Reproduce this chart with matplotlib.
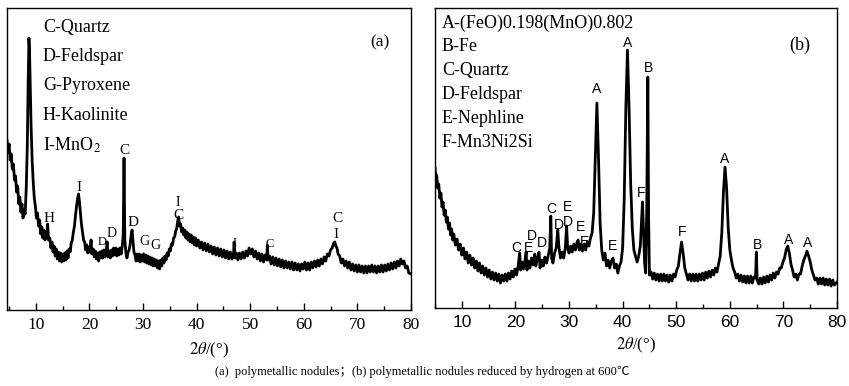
import matplotlib.pyplot as plt
from matplotlib.ticker import MultipleLocator

# (a) polymetallic nodules: 2theta / intensity (arb. units)
two_theta_a = [4.6, 4.8, 5.0, 5.2, 5.4, 5.6, 5.8, 6.0, 6.2, 6.4, 6.6, 6.8, 7.0, 7.2, 7.4, 7.6, 7.8, 8.0,
               8.2, 8.4, 8.55, 8.7, 8.8, 8.95, 9.1, 9.3, 9.5, 9.7, 9.9, 10.1, 10.3, 10.5, 10.7, 10.9,
               11.1, 11.3, 11.5, 11.7, 11.9, 12.1, 12.2, 12.35, 12.6, 12.8, 13.0, 13.2, 13.4, 13.6,
               13.8, 14.0, 14.2, 14.4, 14.6, 14.8, 15.0, 15.2, 15.4, 15.6, 15.8, 16.0, 16.2, 16.4,
               16.6, 16.8, 17.0, 17.2, 17.4, 17.6, 17.8, 17.95, 18.1, 18.3, 18.5, 18.7, 18.9, 19.1,
               19.3, 19.5, 19.7, 19.9, 20.1, 20.3, 20.45, 20.7, 20.9, 21.1, 21.3, 21.5, 21.7, 21.9,
               22.1, 22.3, 22.5, 22.7, 22.9, 23.1, 23.3, 23.45, 23.7, 23.9, 24.1, 24.3, 24.5, 24.7,
               24.9, 25.1, 25.3, 25.5, 25.7, 25.9, 26.1, 26.3, 26.45, 26.6, 26.8, 27.0, 27.2, 27.4,
               27.6, 27.8, 27.95, 28.1, 28.3, 28.5, 28.7, 28.9, 29.1, 29.3, 29.5, 29.7, 29.9, 30.1,
               30.3, 30.5, 30.7, 30.9, 31.1, 31.3, 31.5, 31.7, 31.9, 32.1, 32.3, 32.5, 32.7, 32.9,
               33.1, 33.3, 33.5, 33.7, 33.9, 34.1, 34.3, 34.5, 34.7, 34.9, 35.1, 35.3, 35.5, 35.7,
               35.9, 36.1, 36.3, 36.5, 36.65, 36.8, 37.0, 37.2, 37.4, 37.6, 37.8, 38.0, 38.2, 38.4,
               38.6, 38.8, 39.0, 39.2, 39.4, 39.6, 39.8, 40.0, 40.3, 40.6, 40.9, 41.2, 41.5, 41.8,
               42.1, 42.4, 42.7, 43.0, 43.3, 43.6, 43.9, 44.2, 44.5, 44.8, 45.1, 45.4, 45.7, 46.0,
               46.3, 46.6, 46.9, 47.0, 47.15, 47.4, 47.7, 48.0, 48.3, 48.6, 48.9, 49.2, 49.5, 49.8,
               50.1, 50.4, 50.7, 51.0, 51.3, 51.6, 51.9, 52.2, 52.5, 52.8, 53.1, 53.2, 53.35, 53.6,
               53.9, 54.2, 54.5, 54.8, 55.1, 55.4, 55.7, 56.0, 56.3, 56.6, 56.9, 57.2, 57.5, 57.8,
               58.1, 58.4, 58.7, 59.0, 59.3, 59.6, 59.9, 60.2, 60.5, 60.8, 61.1, 61.4, 61.7, 62.0,
               62.3, 62.6, 62.9, 63.2, 63.5, 63.8, 64.1, 64.4, 64.7, 65.0, 65.3, 65.6, 65.8, 66.0,
               66.2, 66.4, 66.7, 67.0, 67.3, 67.6, 67.9, 68.2, 68.5, 68.8, 69.1, 69.4, 69.7, 70.0,
               70.3, 70.6, 70.9, 71.2, 71.5, 71.8, 72.1, 72.4, 72.7, 73.0, 73.3, 73.6, 73.9, 74.2,
               74.5, 74.8, 75.1, 75.4, 75.7, 76.0, 76.3, 76.6, 76.9, 77.2, 77.5, 77.8, 78.1, 78.4,
               78.7, 79.0, 79.3, 79.6, 80.0]
intensity_a = [170, 158, 166, 150, 156, 141, 146, 130, 134, 118, 124, 106, 113, 98, 106, 92, 100, 96,
               122, 165, 225, 272, 262, 225, 185, 150, 128, 112, 104, 92, 97, 84, 90, 76,
               83, 72, 80, 70, 78, 73, 86, 70, 72, 62, 68, 58, 64, 54,
               61, 51, 58, 49, 57, 48, 56, 49, 57, 50, 59, 52, 61, 58,
               67, 70, 78, 84, 95, 104, 112, 116, 110, 98, 86, 78, 70, 68,
               60, 65, 57, 63, 58, 70, 56, 61, 53, 59, 51, 57, 49, 58,
               52, 59, 52, 60, 53, 58, 68, 53, 59, 52, 60, 54, 62, 55,
               62, 54, 61, 55, 62, 56, 63, 75, 152, 70, 57, 52, 58, 60,
               66, 76, 80, 70, 58, 55, 49, 56, 49, 56, 48, 55, 49, 56,
               48, 55, 47, 54, 46, 53, 45, 52, 44, 51, 44, 50, 42, 49,
               41, 50, 44, 52, 47, 54, 50, 57, 54, 61, 59, 66, 65, 72,
               73, 79, 82, 90, 93, 84, 86, 78, 82, 75, 80, 72, 78, 70,
               76, 68, 75, 67, 73, 65, 72, 64, 70, 62, 68, 60, 67, 59,
               66, 58, 64, 56, 63, 55, 62, 54, 61, 53, 60, 52, 59, 51,
               58, 51, 57, 68, 52, 57, 50, 57, 51, 58, 52, 59, 54, 62,
               56, 61, 53, 59, 51, 57, 49, 56, 48, 55, 50, 65, 50, 54,
               46, 53, 45, 52, 44, 51, 43, 50, 42, 49, 42, 48, 41, 48,
               40, 47, 40, 46, 39, 46, 41, 48, 40, 47, 40, 48, 42, 49,
               43, 50, 44, 51, 46, 53, 49, 56, 54, 60, 62, 67, 68, 64,
               62, 56, 54, 47, 51, 44, 49, 42, 48, 40, 46, 39, 45, 38,
               45, 38, 44, 37, 44, 37, 44, 38, 45, 38, 44, 37, 44, 38,
               45, 38, 45, 39, 46, 40, 47, 41, 48, 42, 49, 44, 51, 46,
               49, 42, 44, 37, 36]

# (b) reduced by hydrogen at 600 C
two_theta_b = [5.0, 5.15, 5.3, 5.5, 5.7, 5.9, 6.1, 6.3, 6.5, 6.7, 6.9, 7.1, 7.3, 7.5, 7.7, 7.9, 8.1,
               8.3, 8.5, 8.8, 9.1, 9.4, 9.7, 10.0, 10.3, 10.6, 10.9, 11.2, 11.5, 11.8, 12.1, 12.4,
               12.7, 13.0, 13.3, 13.6, 13.9, 14.2, 14.5, 14.8, 15.1, 15.4, 15.7, 16.0, 16.3, 16.6,
               16.9, 17.2, 17.5, 17.8, 18.1, 18.4, 18.7, 19.0, 19.3, 19.6, 19.9, 20.2, 20.5, 20.8,
               20.95, 21.2, 21.5, 21.8, 22.0, 22.15, 22.4, 22.7, 23.0, 23.3, 23.6, 23.8, 24.1, 24.4,
               24.6, 24.9, 25.2, 25.5, 25.8, 26.1, 26.4, 26.6, 26.75, 27.0, 27.3, 27.6, 27.9, 28.1,
               28.4, 28.7, 29.0, 29.3, 29.55, 29.75, 30.0, 30.3, 30.6, 30.9, 31.2, 31.5, 31.7, 31.9,
               32.2, 32.5, 32.8, 33.1, 33.4, 33.7, 34.0, 34.3, 34.6, 34.9, 35.2, 35.5, 35.8, 36.1,
               36.4, 36.7, 37.0, 37.3, 37.6, 37.9, 38.2, 38.5, 38.8, 39.1, 39.4, 39.7, 40.0, 40.3,
               40.6, 40.9, 41.2, 41.5, 41.8, 42.1, 42.4, 42.7, 43.0, 43.3, 43.5, 43.7, 43.9, 44.1,
               44.3, 44.5, 44.7, 44.85, 45.0, 45.3, 45.6, 45.9, 46.2, 46.5, 46.8, 47.1, 47.4, 47.7,
               48.0, 48.3, 48.6, 48.9, 49.2, 49.5, 49.8, 50.1, 50.4, 50.7, 51.0, 51.3, 51.6, 51.9,
               52.2, 52.5, 52.8, 53.1, 53.4, 53.7, 54.0, 54.3, 54.6, 54.9, 55.2, 55.5, 55.8, 56.1,
               56.4, 56.7, 57.0, 57.3, 57.6, 57.9, 58.2, 58.5, 58.8, 59.1, 59.4, 59.7, 60.0, 60.3,
               60.6, 60.9, 61.2, 61.5, 61.8, 62.1, 62.4, 62.7, 63.0, 63.3, 63.6, 63.9, 64.2, 64.5,
               64.8, 64.95, 65.1, 65.4, 65.7, 66.0, 66.3, 66.6, 66.9, 67.2, 67.5, 67.8, 68.1, 68.4,
               68.7, 69.0, 69.3, 69.6, 69.9, 70.2, 70.5, 70.8, 71.1, 71.4, 71.7, 72.0, 72.3, 72.6,
               72.9, 73.2, 73.5, 73.8, 74.1, 74.4, 74.7, 75.0, 75.3, 75.6, 75.9, 76.2, 76.5, 76.8,
               77.1, 77.4, 77.7, 78.0, 78.3, 78.6, 78.9, 79.2, 79.5, 80.0]
intensity_b = [140, 128, 133, 120, 124, 110, 115, 101, 106, 93, 98, 86, 91, 79, 85, 73, 79,
               68, 74, 63, 69, 58, 64, 53, 60, 49, 56, 45, 53, 43, 50, 40,
               47, 37, 45, 35, 42, 33, 40, 31, 38, 29, 36, 28, 35, 27,
               34, 25, 33, 27, 34, 27, 35, 29, 37, 31, 39, 33, 42, 55,
               38, 46, 39, 48, 56, 38, 47, 40, 50, 43, 54, 42, 50, 56,
               40, 48, 42, 51, 45, 52, 60, 92, 50, 45, 55, 60, 78, 62,
               50, 56, 50, 60, 82, 60, 55, 62, 56, 64, 58, 66, 68, 58,
               64, 57, 64, 58, 66, 62, 70, 75, 95, 150, 205, 150, 85, 58,
               48, 55, 42, 48, 40, 47, 50, 40, 44, 35, 42, 46, 60, 110,
               200, 258, 200, 125, 80, 58, 52, 46, 52, 62, 85, 106, 78, 45,
               35, 100, 231, 90, 33, 36, 29, 35, 28, 34, 27, 34, 27, 34,
               27, 33, 26, 33, 27, 34, 31, 38, 42, 55, 66, 54, 40, 34,
               28, 34, 27, 34, 27, 34, 27, 34, 28, 35, 28, 36, 30, 37,
               31, 38, 33, 40, 36, 44, 52, 75, 115, 141, 120, 80, 58, 48,
               40, 36, 30, 34, 27, 33, 26, 32, 25, 32, 25, 32, 25, 31,
               30, 56, 28, 24, 30, 24, 31, 25, 32, 26, 33, 28, 35, 30,
               36, 34, 40, 40, 46, 50, 58, 62, 55, 44, 38, 31, 34, 28,
               34, 34, 42, 48, 52, 57, 52, 46, 38, 33, 28, 30, 24, 30,
               24, 30, 23, 29, 23, 29, 22, 28, 23, 26]

phases_a = ['C-Quartz', 'D-Feldspar', 'G-Pyroxene', 'H-Kaolinite', 'I-MnO$_2$']
phases_b = ['A-(FeO)0.198(MnO)0.802', 'B-Fe', 'C-Quartz', 'D-Feldspar', 'E-Nephline', 'F-Mn3Ni2Si']

# peak letters: (label, 2theta, y, size)
marks_a = [('H', 12.5, 92, 11), ('I', 18.1, 123, 11), ('D', 22.3, 68, 9), ('D', 24.1, 76, 10),
           ('C', 26.5, 160, 11), ('D', 28.2, 88, 11), ('G', 30.2, 68, 10), ('G', 32.4, 64, 10),
           ('I', 36.5, 108, 10), ('C', 36.7, 95, 11), ('I', 47.0, 67, 9), ('C', 53.6, 66, 9),
           ('C', 66.3, 92, 11), ('I', 66.0, 75, 11)]
marks_b = [('C', 20.2, 60), ('E', 22.5, 60), ('D', 23.1, 72), ('D', 25.0, 65), ('C', 26.7, 99),
           ('D', 28.05, 83), ('E', 29.8, 101), ('D', 29.8, 86), ('E', 32.2, 81), ('E', 32.9, 66),
           ('A', 35.2, 219), ('E', 38.1, 62), ('A', 40.85, 265), ('F', 43.5, 115), ('B', 44.8, 240),
           ('F', 51.1, 76), ('A', 59.1, 149), ('B', 65.1, 63), ('A', 70.9, 68), ('A', 74.5, 65)]

serif = ['Liberation Serif', 'DejaVu Serif']
sans = ['Liberation Sans', 'DejaVu Sans']
plt.rcParams['mathtext.fontset'] = 'stix'

fig = plt.figure(figsize=(8.49, 3.86), dpi=100)
ax1 = fig.add_axes([0.0082, 0.197, 0.4758, 0.782])
ax2 = fig.add_axes([0.5124, 0.202, 0.4735, 0.777])

ax1.plot(two_theta_a, intensity_a, color='black', lw=2.0)
ax1.set_xlim(4.6, 80)
ax1.set_ylim(0, 302)
for lab, x, y, fs in marks_a:
    ax1.text(x, y, lab, ha='center', va='center', fontsize=fs, family=serif)
for i, p in enumerate(phases_a):
    ax1.text(0.089, 0.937 - i * 0.0975, p, transform=ax1.transAxes, va='center',
             fontsize=13, family=serif)
ax1.text(0.923, 0.887, '(a)', transform=ax1.transAxes, ha='center', va='center',
         fontsize=12.5, family=serif)
ax1.set_xlabel(r'$2\theta$/(°)', fontsize=12, family=serif, labelpad=6)

ax2.plot(two_theta_b, intensity_b, color='black', lw=2.0)
ax2.set_xlim(5, 80)
ax2.set_ylim(0, 300)
for lab, x, y in marks_b:
    ax2.text(x, y, lab, ha='center', va='center', fontsize=10, family=sans)
for i, p in enumerate(phases_b):
    ax2.text(0.017, 0.95 - i * 0.0795, p, transform=ax2.transAxes, va='center',
             fontsize=13, family=serif)
ax2.text(0.908, 0.877, '(b)', transform=ax2.transAxes, ha='center', va='center',
         fontsize=13, family=serif)
ax2.set_xlabel(r'$2\theta$/(°)', fontsize=12, family=serif, labelpad=4)

for ax, fam in ((ax1, serif), (ax2, sans)):
    ax.xaxis.set_major_locator(MultipleLocator(10))
    ax.xaxis.set_minor_locator(MultipleLocator(5))
    ax.tick_params(axis='x', which='major', direction='in', length=5, width=1, pad=5)
    ax.tick_params(axis='x', which='minor', direction='in', length=3, width=1)
    ax.set_yticks([])
    for lbl in ax.get_xticklabels():
        lbl.set_family(fam)
        lbl.set_fontsize(12.5)
    for s in ax.spines.values():
        s.set_linewidth(1.0)

fig.text(0.497, 0.02, '(a)  polymetallic nodules；(b) polymetallic nodules reduced by hydrogen at 600℃',
         ha='center', va='bottom', fontsize=9, family=['Liberation Serif', 'Noto Sans CJK SC'])

fig.savefig('out.png', dpi=100)
